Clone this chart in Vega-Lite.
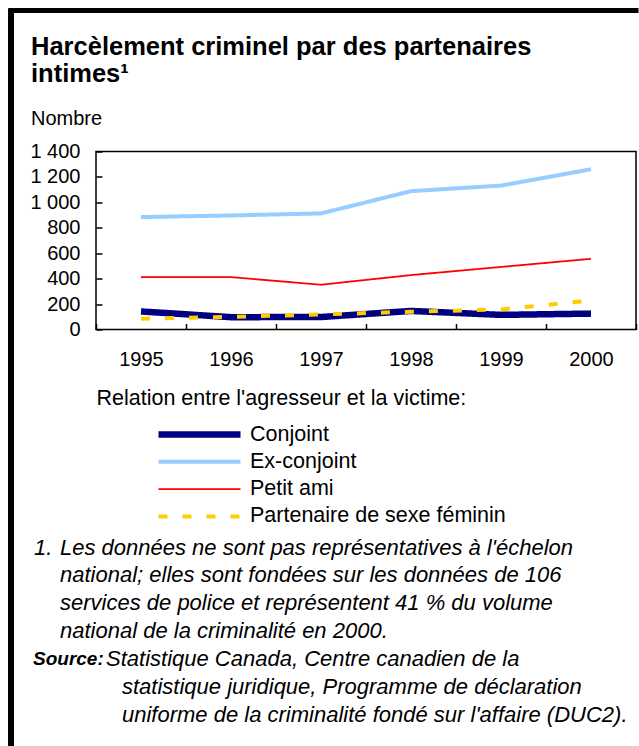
{
  "$schema": "https://vega.github.io/schema/vega-lite/v6.json",
  "padding": {"left": 8, "top": 7.5, "right": 0, "bottom": 0},
  "background": "white",
  "config": {
    "font": "Liberation Sans",
    "view": {"stroke": null}
  },
  "datasets": {
    "series": [
      {"year": "1995", "series": "Conjoint", "value": 142},
      {"year": "1996", "series": "Conjoint", "value": 97},
      {"year": "1997", "series": "Conjoint", "value": 98},
      {"year": "1998", "series": "Conjoint", "value": 146},
      {"year": "1999", "series": "Conjoint", "value": 115},
      {"year": "2000", "series": "Conjoint", "value": 125},
      {"year": "1995", "series": "Ex-conjoint", "value": 884},
      {"year": "1996", "series": "Ex-conjoint", "value": 897},
      {"year": "1997", "series": "Ex-conjoint", "value": 913},
      {"year": "1998", "series": "Ex-conjoint", "value": 1088},
      {"year": "1999", "series": "Ex-conjoint", "value": 1132},
      {"year": "2000", "series": "Ex-conjoint", "value": 1260},
      {"year": "1995", "series": "Petit ami", "value": 412},
      {"year": "1996", "series": "Petit ami", "value": 412},
      {"year": "1997", "series": "Petit ami", "value": 352},
      {"year": "1998", "series": "Petit ami", "value": 428},
      {"year": "1999", "series": "Petit ami", "value": 492},
      {"year": "2000", "series": "Petit ami", "value": 556},
      {"year": "1995", "series": "Partenaire de sexe féminin", "value": 84},
      {"year": "1996", "series": "Partenaire de sexe féminin", "value": 100},
      {"year": "1997", "series": "Partenaire de sexe féminin", "value": 118},
      {"year": "1998", "series": "Partenaire de sexe féminin", "value": 140},
      {"year": "1999", "series": "Partenaire de sexe féminin", "value": 158},
      {"year": "2000", "series": "Partenaire de sexe féminin", "value": 228}
    ],
    "notes": [
      {"row": 1, "part": "num", "text": "1."},
      {"row": 1, "part": "a", "text": "Les données ne sont pas représentatives à l'échelon"},
      {"row": 2, "part": "a", "text": "national; elles sont fondées sur les données de 106"},
      {"row": 3, "part": "a", "text": "services de police et représentent 41 % du volume"},
      {"row": 4, "part": "a", "text": "national de la criminalité en 2000."},
      {"row": 5, "part": "src", "text": "Source:"},
      {"row": 5, "part": "b", "text": "Statistique Canada, Centre canadien de la"},
      {"row": 6, "part": "c", "text": "statistique juridique, Programme de déclaration"},
      {"row": 7, "part": "c", "text": "uniforme de la criminalité fondé sur l'affaire (DUC2)."}
    ],
    "empty": []
  },
  "bounds": "flush",
  "spacing": 0,
  "vconcat": [
    {
      "width": 625, "height": 0.001,
      "data": {"name": "empty"},
      "mark": "text",
      "view": {"stroke": "black", "strokeWidth": 5}
    },
    {
      "bounds": "flush",
      "spacing": 84,
      "hconcat": [
        {
          "width": 0.001, "height": 732,
          "data": {"name": "empty"},
          "mark": "text",
          "view": {"stroke": "black", "strokeWidth": 6}
        },
        {
          "bounds": "flush",
          "spacing": 0,
          "vconcat": [
            {
              "width": 0.001, "height": 139.5,
              "data": {"name": "empty"},
              "mark": "text"
            },
            {
              "bounds": "flush",
              "spacing": 218,
              "vconcat": [
                {
                  "width": 540, "height": 178,
                  "view": {"stroke": "black", "strokeWidth": 1.5},
                  "title": {
                    "text": ["Harcèlement criminel par des partenaires", "intimes¹"],
                    "subtitle": "Nombre",
                    "anchor": "start",
                    "frame": "group",
                    "dx": -65,
                    "fontSize": 25.5,
                    "fontWeight": "bold",
                    "lineHeight": 27,
                    "color": "black",
                    "font": "Liberation Sans",
                    "subtitleFont": "Liberation Sans",
                    "subtitleFontSize": 20,
                    "subtitleColor": "black",
                    "subtitlePadding": 21,
                    "offset": 13
                  },
                  "data": {"name": "series"},
                  "mark": {"type": "line"},
                  "encoding": {
                    "x": {
                      "field": "year", "type": "ordinal",
                      "scale": {"type": "band", "paddingInner": 0, "paddingOuter": 0},
                      "axis": {
                        "title": "Relation entre l'agresseur et la victime:",
                        "titleAnchor": "start", "titleAlign": "left",
                        "titleFontSize": 21.5, "titleFontWeight": "normal", "titleColor": "black",
                        "titlePadding": 18,
                        "labelAngle": 0, "labelFontSize": 20, "labelColor": "black",
                        "labelPadding": 26,
                        "tickBand": "extent", "tickSize": -6, "tickColor": "black", "tickWidth": 1.5,
                        "domain": false
                      }
                    },
                    "y": {
                      "field": "value", "type": "quantitative",
                      "scale": {"domain": [0, 1400], "nice": false},
                      "axis": {
                        "title": null,
                        "values": [0, 200, 400, 600, 800, 1000, 1200, 1400],
                        "labelExpr": "replace(format(datum.value, ','), ',', ' ')",
                        "labelFontSize": 20, "labelColor": "black", "labelPadding": 22,
                        "tickSize": -6, "tickColor": "black", "tickWidth": 1.5,
                        "grid": false, "domain": false
                      }
                    },
                    "color": {
                      "field": "series", "type": "nominal",
                      "scale": {
                        "domain": ["Conjoint", "Ex-conjoint", "Petit ami", "Partenaire de sexe féminin"],
                        "range": ["#000080", "#99CCFF", "#FF0000", "#FFCC00"]
                      },
                      "legend": {
                        "title": null, "orient": "none", "legendX": 144, "legendY": 414,
                        "symbolType": "stroke", "symbolSize": 6724,
                        "labelFontSize": 21.5, "labelColor": "black", "labelOffset": 6, "labelLimit": 400,
                        "clipHeight": 20, "rowPadding": 5.3
                      }
                    },
                    "strokeWidth": {
                      "field": "series", "type": "nominal",
                      "scale": {
                        "type": "ordinal",
                        "domain": ["Conjoint", "Ex-conjoint", "Petit ami", "Partenaire de sexe féminin"],
                        "range": [6.5, 4, 1.8, 4]
                      },
                      "legend": {
                        "title": null, "orient": "none", "legendX": 144, "legendY": 414,
                        "symbolType": "stroke", "symbolSize": 6724,
                        "labelFontSize": 21.5, "labelColor": "black", "labelOffset": 6, "labelLimit": 400,
                        "clipHeight": 20, "rowPadding": 5.3
                      }
                    },
                    "strokeDash": {
                      "field": "series", "type": "nominal",
                      "scale": {
                        "domain": ["Conjoint", "Ex-conjoint", "Petit ami", "Partenaire de sexe féminin"],
                        "range": [[1, 0], [1, 0], [1, 0], [9, 15]]
                      },
                      "legend": {
                        "title": null, "orient": "none", "legendX": 144, "legendY": 414,
                        "symbolType": "stroke", "symbolSize": 6724,
                        "labelFontSize": 21.5, "labelColor": "black", "labelOffset": 6, "labelLimit": 400,
                        "clipHeight": 20, "rowPadding": 5.3
                      }
                    }
                  }
                },
                {
                  "width": 540, "height": 167,
                  "data": {"name": "notes"},
                  "encoding": {
                    "y": {"field": "row", "type": "ordinal", "scale": {"type": "point", "padding": 0}, "axis": null}
                  },
                  "layer": [
                    {
                      "transform": [{"filter": "datum.part == 'num'"}],
                      "mark": {"type": "text", "align": "left", "baseline": "middle", "fontStyle": "italic", "fontSize": 22, "color": "black", "x": -62},
                      "encoding": {"text": {"field": "text"}}
                    },
                    {
                      "transform": [{"filter": "datum.part == 'a'"}],
                      "mark": {"type": "text", "align": "left", "baseline": "middle", "fontStyle": "italic", "fontSize": 22, "color": "black", "x": -36},
                      "encoding": {"text": {"field": "text"}}
                    },
                    {
                      "transform": [{"filter": "datum.part == 'src'"}],
                      "mark": {"type": "text", "align": "left", "baseline": "middle", "fontStyle": "italic", "fontWeight": "bold", "fontSize": 19, "color": "black", "x": -63},
                      "encoding": {"text": {"field": "text"}}
                    },
                    {
                      "transform": [{"filter": "datum.part == 'b'"}],
                      "mark": {"type": "text", "align": "left", "baseline": "middle", "fontStyle": "italic", "fontSize": 22, "color": "black", "x": 10},
                      "encoding": {"text": {"field": "text"}}
                    },
                    {
                      "transform": [{"filter": "datum.part == 'c'"}],
                      "mark": {"type": "text", "align": "left", "baseline": "middle", "fontStyle": "italic", "fontSize": 22, "color": "black", "x": 26},
                      "encoding": {"text": {"field": "text"}}
                    }
                  ]
                }
              ]
            }
          ]
        }
      ]
    }
  ]
}
